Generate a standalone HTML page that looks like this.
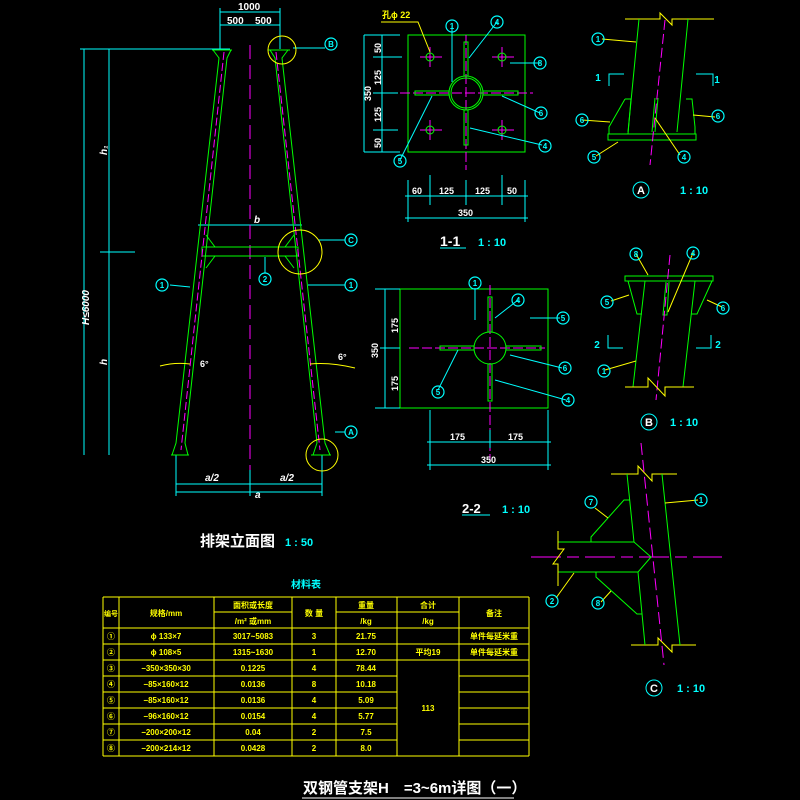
<!DOCTYPE html>
<html><head><meta charset="utf-8"><style>
html,body{margin:0;padding:0;background:#000;width:800px;height:800px;overflow:hidden}
svg text{font-family:"Liberation Sans","Noto Sans CJK SC",sans-serif;font-weight:bold}
</style></head><body>
<svg width="800" height="800" viewBox="0 0 800 800" xmlns="http://www.w3.org/2000/svg">
<rect width="800" height="800" fill="#000"/>
<defs>
<g id="cn"><circle r="6" fill="none" stroke="#0ff" stroke-width="1.2"/></g>
</defs>
<g fill="none" stroke-width="1">
<!-- ELEVATION -->
<g stroke="#0ff">
<line x1="80" y1="49" x2="230" y2="49"/>
<line x1="84" y1="49" x2="84" y2="455"/>
<line x1="109" y1="49" x2="109" y2="455"/>
<line x1="100" y1="252" x2="135" y2="252"/>
<line x1="220" y1="12" x2="280" y2="12"/>
<line x1="220" y1="25" x2="280" y2="25"/>
<line x1="220" y1="8" x2="220" y2="49"/>
<line x1="280" y1="8" x2="280" y2="49"/>
<line x1="198" y1="225" x2="302" y2="225"/>
<line x1="176" y1="484" x2="322" y2="484"/>
<line x1="176" y1="492" x2="322" y2="492"/>
<line x1="176" y1="455" x2="176" y2="496"/>
<line x1="322" y1="455" x2="322" y2="496"/>
<line x1="250" y1="470" x2="250" y2="496"/>
<line x1="293" y1="48" x2="325" y2="48"/>
<line x1="318" y1="240" x2="345" y2="240"/>
<line x1="308" y1="285" x2="345" y2="285"/>
<line x1="170" y1="285" x2="190" y2="287"/>
<line x1="265" y1="257" x2="265" y2="273"/>
<line x1="335" y1="432" x2="345" y2="432"/>
</g>
<line x1="250" y1="45" x2="250" y2="470" stroke="#f0f" stroke-dasharray="14,6"/>
<g stroke="#0f0">
<polyline points="213,50 219,58 176,443 172,455"/>
<polyline points="231,50 227,58 185,443 188,455"/>
<polyline points="270,50 275,58 317,443 313,455"/>
<polyline points="288,50 282,58 325,443 330,455"/>
<line x1="171" y1="455" x2="189" y2="455"/>
<line x1="311" y1="455" x2="331" y2="455"/>
<line x1="212" y1="50" x2="232" y2="50"/>
<line x1="268" y1="50" x2="290" y2="50"/>
<rect x="202" y="247" width="96" height="9"/>
<line x1="206" y1="235" x2="215" y2="247"/>
<line x1="206" y1="268" x2="215" y2="256"/>
<line x1="294" y1="235" x2="285" y2="247"/>
<line x1="294" y1="268" x2="285" y2="256"/>
</g>
<g stroke="#f0f" stroke-dasharray="8,3">
<line x1="224" y1="52" x2="181" y2="450"/>
<line x1="276" y1="52" x2="320" y2="450"/>
</g>
<g stroke="#ff0">
<circle cx="282" cy="50" r="14"/>
<circle cx="300" cy="252" r="22"/>
<circle cx="322" cy="455" r="16"/>
<path d="M160 366 Q175 362 190 364"/><path d="M310 364 Q330 362 355 368"/>
</g>
</g>
<g fill="#fff" font-size="10">
<text x="238" y="10" font-size="10">1000</text>
<text x="227" y="24">500</text><text x="255" y="24">500</text>
<text x="254" y="223" font-style="italic">b</text>
<text x="205" y="481" font-style="italic">a/2</text>
<text x="280" y="481" font-style="italic">a/2</text>
<text x="255" y="498" font-style="italic">a</text>
<text x="200" y="367" font-size="9">6°</text><text x="338" y="360" font-size="9">6°</text>
<text transform="translate(107,155) rotate(-90)" font-style="italic">h₁</text>
<text transform="translate(89,325) rotate(-90)" font-style="italic">H≤6000</text>
<text transform="translate(107,365) rotate(-90)" font-style="italic">h</text>
<text x="200" y="546" font-size="15">排架立面图</text>
</g>
<text x="285" y="546" fill="#0ff" font-size="11">1 : 50</text>
<g fill="#0ff" font-size="8" text-anchor="middle">
<use href="#cn" x="331" y="44"/><text x="331" y="47">B</text>
<use href="#cn" x="351" y="240"/><text x="351" y="243">C</text>
<use href="#cn" x="351" y="432"/><text x="351" y="435">A</text>
<use href="#cn" x="162" y="285"/><text x="162" y="288">1</text>
<use href="#cn" x="351" y="285"/><text x="351" y="288">1</text>
<use href="#cn" x="265" y="279"/><text x="265" y="282">2</text>
</g>

<!-- 1-1 PLAN -->
<g fill="none">
<rect x="408" y="35" width="117" height="117" stroke="#0f0"/>
<g stroke="#f0f" stroke-dasharray="10,3"><line x1="400" y1="93" x2="533" y2="93"/><line x1="466" y1="35" x2="466" y2="170"/></g>
<g stroke="#f0f"><line x1="420" y1="57" x2="442" y2="57"/><line x1="430" y1="47" x2="430" y2="67"/><line x1="492" y1="57" x2="514" y2="57"/><line x1="502" y1="47" x2="502" y2="67"/><line x1="420" y1="130" x2="442" y2="130"/><line x1="430" y1="120" x2="430" y2="140"/><line x1="492" y1="130" x2="514" y2="130"/><line x1="502" y1="120" x2="502" y2="140"/></g>
<g stroke="#0f0"><circle cx="430" cy="57" r="4"/><circle cx="502" cy="57" r="4"/><circle cx="430" cy="130" r="4"/><circle cx="502" cy="130" r="4"/>
<circle cx="466" cy="93" r="17"/><circle cx="466" cy="93" r="15"/>
<rect x="464" y="42" width="4" height="34"/><rect x="464" y="110" width="4" height="35"/>
<rect x="415" y="91" width="34" height="4"/><rect x="483" y="91" width="35" height="4"/></g>
<g stroke="#0ff"><line x1="364" y1="35" x2="400" y2="35"/><line x1="364" y1="152" x2="400" y2="152"/><line x1="364" y1="35" x2="364" y2="152"/><line x1="382" y1="35" x2="382" y2="152"/><line x1="373" y1="57" x2="402" y2="57"/><line x1="373" y1="130" x2="398" y2="130"/><line x1="373" y1="93" x2="398" y2="93"/>
<line x1="408" y1="180" x2="408" y2="222"/><line x1="525" y1="180" x2="525" y2="222"/><line x1="430" y1="175" x2="430" y2="205"/><line x1="502" y1="175" x2="502" y2="205"/><line x1="466" y1="180" x2="466" y2="205"/>
<line x1="405" y1="196" x2="528" y2="196"/><line x1="405" y1="218" x2="528" y2="218"/>
<line x1="452" y1="26" x2="452" y2="82"/><line x1="497" y1="22" x2="469" y2="58"/><line x1="510" y1="63" x2="540" y2="63"/><line x1="502" y1="96" x2="540" y2="113"/><line x1="470" y1="128" x2="542" y2="145"/><line x1="432" y1="96" x2="400" y2="160"/>
<line x1="440" y1="248" x2="466" y2="248"/></g>
<polyline points="381,22 418,22 430,52" stroke="#ff0"/>
</g>
<g fill="#fff" font-size="9">
<text transform="translate(381,53) rotate(-90)">50</text><text transform="translate(381,85) rotate(-90)">125</text><text transform="translate(381,122) rotate(-90)">125</text><text transform="translate(381,148) rotate(-90)">50</text>
<text transform="translate(371,101) rotate(-90)">350</text>
<text x="412" y="194">60</text><text x="439" y="194">125</text><text x="475" y="194">125</text><text x="507" y="194">50</text>
<text x="458" y="216">350</text>
<text x="440" y="246" font-size="14" font-weight="normal">1-1</text>
</g>
<text x="382" y="18" fill="#ff0" font-size="9">孔ϕ 22</text>
<text x="478" y="246" fill="#0ff" font-size="11">1 : 10</text>
<g fill="#0ff" font-size="8" text-anchor="middle">
<use href="#cn" x="452" y="26"/><text x="452" y="29">1</text>
<use href="#cn" x="497" y="22"/><text x="497" y="25">4</text>
<use href="#cn" x="540" y="63"/><text x="540" y="66">8</text>
<use href="#cn" x="541" y="113"/><text x="541" y="116">6</text>
<use href="#cn" x="545" y="146"/><text x="545" y="149">4</text>
<use href="#cn" x="400" y="161"/><text x="400" y="164">5</text>
</g>

<!-- 2-2 PLAN -->
<g fill="none">
<rect x="400" y="289" width="148" height="119" stroke="#0f0"/>
<line x1="409" y1="348" x2="545" y2="348" stroke="#f0f" stroke-dasharray="10,3"/>
<line x1="490" y1="285" x2="490" y2="460" stroke="#f0f" stroke-dasharray="10,3"/>
<g stroke="#0f0"><circle cx="490" cy="348" r="16"/><rect x="488" y="297" width="4" height="35"/><rect x="488" y="364" width="4" height="37"/><rect x="440" y="346" width="34" height="4"/><rect x="506" y="346" width="35" height="4"/></g>
<g stroke="#0ff"><line x1="375" y1="289" x2="400" y2="289"/><line x1="375" y1="408" x2="400" y2="408"/><line x1="385" y1="289" x2="385" y2="408"/><line x1="380" y1="348" x2="400" y2="348"/>
<line x1="430" y1="410" x2="430" y2="470"/><line x1="548" y1="410" x2="548" y2="470"/><line x1="490" y1="430" x2="490" y2="448"/>
<line x1="427" y1="442" x2="551" y2="442"/><line x1="427" y1="465" x2="551" y2="465"/>
<line x1="475" y1="288" x2="475" y2="320"/><line x1="518" y1="300" x2="495" y2="318"/><line x1="530" y1="318" x2="560" y2="318"/><line x1="510" y1="355" x2="562" y2="368"/><line x1="495" y1="380" x2="566" y2="400"/><line x1="458" y1="350" x2="438" y2="390"/>
<line x1="462" y1="515" x2="490" y2="515"/></g>
</g>
<g fill="#fff" font-size="9">
<text transform="translate(398,333) rotate(-90)">175</text><text transform="translate(398,391) rotate(-90)">175</text>
<text transform="translate(378,358) rotate(-90)">350</text>
<text x="450" y="440">175</text><text x="508" y="440">175</text><text x="481" y="463">350</text>
<text x="462" y="513" font-size="13">2-2</text>
</g>
<text x="502" y="513" fill="#0ff" font-size="11">1 : 10</text>
<g fill="#0ff" font-size="8" text-anchor="middle">
<use href="#cn" x="475" y="283"/><text x="475" y="286">1</text>
<use href="#cn" x="518" y="300"/><text x="518" y="303">4</text>
<use href="#cn" x="563" y="318"/><text x="563" y="321">5</text>
<use href="#cn" x="565" y="368"/><text x="565" y="371">6</text>
<use href="#cn" x="568" y="400"/><text x="568" y="403">4</text>
<use href="#cn" x="438" y="392"/><text x="438" y="395">5</text>
</g>

<!-- DETAIL A -->
<g fill="none">
<polyline points="625,19 660,19 660,13 672,25 672,19 714,19" stroke="#ff0"/>
<g stroke="#0f0"><line x1="639" y1="19" x2="628" y2="132"/><line x1="688" y1="19" x2="677" y2="132"/>
<rect x="608" y="134" width="88" height="6"/>
<polyline points="625,99 631,99 628,134"/><polyline points="625,99 609,127 609,134"/>
<polyline points="686,99 692,99 695,127 695,134"/>
<line x1="655" y1="98" x2="652" y2="132"/><line x1="658" y1="98" x2="655" y2="132"/></g>
<line x1="665" y1="20" x2="650" y2="165" stroke="#f0f" stroke-dasharray="10,4"/>
<g stroke="#0ff"><polyline points="609,86 609,74 624,74"/><polyline points="713,86 713,74 696,74"/></g>
<g stroke="#ff0"><line x1="602" y1="39" x2="636" y2="42"/><line x1="582" y1="120" x2="610" y2="122"/><line x1="693" y1="115" x2="715" y2="117"/><line x1="596" y1="156" x2="618" y2="142"/><line x1="655" y1="118" x2="680" y2="155"/></g>
</g>
<g fill="#0ff" font-size="8" text-anchor="middle">
<use href="#cn" x="598" y="39"/><text x="598" y="42">1</text>
<use href="#cn" x="582" y="120"/><text x="582" y="123">6</text>
<use href="#cn" x="718" y="116"/><text x="718" y="119">6</text>
<use href="#cn" x="594" y="157"/><text x="594" y="160">5</text>
<use href="#cn" x="684" y="157"/><text x="684" y="160">4</text>
<text x="598" y="81" font-size="10">1</text><text x="717" y="83" font-size="10">1</text>
<circle cx="641" cy="190" r="8" fill="none" stroke="#0ff"/><text x="641" y="194" fill="#fff" font-size="11">A</text>
<text x="680" y="194" font-size="11" text-anchor="start">1 : 10</text>
</g>

<!-- DETAIL B -->
<g fill="none">
<g stroke="#0f0"><rect x="625" y="276" width="88" height="5"/>
<polyline points="628,281 637,314 642,314"/><polyline points="712,281 697,314 691,314"/>
<line x1="645" y1="281" x2="633" y2="387"/><line x1="695" y1="281" x2="683" y2="387"/>
<polyline points="666,282 663,315 667,315 669,282"/></g>
<line x1="670" y1="255" x2="656" y2="400" stroke="#f0f" stroke-dasharray="10,4"/>
<polyline points="625,387 648,387 648,378 665,396 665,387 694,387" stroke="#ff0"/>
<g stroke="#0ff"><polyline points="608,335 608,348 623,348"/><polyline points="711,335 711,348 696,348"/></g>
<g stroke="#ff0"><line x1="636" y1="254" x2="648" y2="275"/><line x1="693" y1="253" x2="668" y2="312"/><line x1="611" y1="301" x2="629" y2="295"/><line x1="707" y1="300" x2="722" y2="307"/><line x1="605" y1="370" x2="636" y2="361"/></g>
</g>
<g fill="#0ff" font-size="8" text-anchor="middle">
<use href="#cn" x="636" y="254"/><text x="636" y="257">8</text>
<use href="#cn" x="693" y="253"/><text x="693" y="256">4</text>
<use href="#cn" x="607" y="302"/><text x="607" y="305">5</text>
<use href="#cn" x="723" y="308"/><text x="723" y="311">6</text>
<use href="#cn" x="604" y="371"/><text x="604" y="374">1</text>
<text x="597" y="348" font-size="10">2</text><text x="718" y="348" font-size="10">2</text>
<circle cx="649" cy="422" r="8" fill="none" stroke="#0ff"/><text x="649" y="426" fill="#fff" font-size="11">B</text>
<text x="670" y="426" font-size="11" text-anchor="start">1 : 10</text>
</g>

<!-- DETAIL C -->
<g fill="none">
<polyline points="611,474 638,474 638,466 652,481 652,474 677,474" stroke="#ff0"/>
<polyline points="631,645 658,645 658,638 672,652 672,645 696,645" stroke="#ff0"/>
<line x1="641" y1="443" x2="664" y2="665" stroke="#f0f" stroke-dasharray="12,5"/>
<line x1="531" y1="557" x2="722" y2="557" stroke="#f0f" stroke-dasharray="30,6,12,6"/>
<g stroke="#0f0"><polyline points="627,474 634,542 651,557 638,572 645,645"/><line x1="662" y1="474" x2="680" y2="645"/>
<line x1="558" y1="542" x2="634" y2="542"/><line x1="558" y1="572" x2="638" y2="572"/>
<polyline points="591,542 591,537 624,500 630,500"/><polyline points="596,572 596,577 637,614 642,614"/></g>
<polyline points="558,531 558,549 564,549 553,564 558,564 558,586" stroke="#ff0"/>
<g stroke="#ff0"><line x1="665" y1="503" x2="698" y2="500"/><line x1="595" y1="508" x2="608" y2="518"/><line x1="556" y1="598" x2="574" y2="573"/><line x1="601" y1="602" x2="611" y2="591"/></g>
</g>
<g fill="#0ff" font-size="8" text-anchor="middle">
<use href="#cn" x="701" y="500"/><text x="701" y="503">1</text>
<use href="#cn" x="591" y="502"/><text x="591" y="505">7</text>
<use href="#cn" x="552" y="601"/><text x="552" y="604">2</text>
<use href="#cn" x="598" y="603"/><text x="598" y="606">8</text>
<circle cx="654" cy="688" r="8" fill="none" stroke="#0ff"/><text x="654" y="692" fill="#fff" font-size="11">C</text>
<text x="677" y="692" font-size="11" text-anchor="start">1 : 10</text>
</g>

<!-- TABLE -->
<text x="306" y="588" fill="#0ff" font-size="10" text-anchor="middle">材料表</text>
<g stroke="#ff0" fill="none">
<line x1="103" y1="597" x2="529" y2="597"/>
<line x1="214" y1="612" x2="292" y2="612"/><line x1="336" y1="612" x2="459" y2="612"/>
<line x1="103" y1="628" x2="529" y2="628"/><line x1="103" y1="644" x2="529" y2="644"/><line x1="103" y1="660" x2="529" y2="660"/>
<line x1="103" y1="676" x2="397" y2="676"/><line x1="459" y1="676" x2="529" y2="676"/>
<line x1="103" y1="692" x2="397" y2="692"/><line x1="459" y1="692" x2="529" y2="692"/>
<line x1="103" y1="708" x2="397" y2="708"/><line x1="459" y1="708" x2="529" y2="708"/>
<line x1="103" y1="724" x2="397" y2="724"/><line x1="459" y1="724" x2="529" y2="724"/>
<line x1="103" y1="740" x2="397" y2="740"/><line x1="459" y1="740" x2="529" y2="740"/>
<line x1="103" y1="756" x2="529" y2="756"/>
<line x1="103" y1="597" x2="103" y2="756"/><line x1="119" y1="597" x2="119" y2="756"/><line x1="214" y1="597" x2="214" y2="756"/><line x1="292" y1="597" x2="292" y2="756"/><line x1="336" y1="597" x2="336" y2="756"/><line x1="397" y1="597" x2="397" y2="756"/><line x1="459" y1="597" x2="459" y2="756"/><line x1="529" y1="597" x2="529" y2="756"/>
</g>
<g fill="#ff0" font-size="8" text-anchor="middle">
<text x="111" y="616" font-size="7">编号</text><text x="166" y="616">规格/mm</text>
<text x="253" y="608">面积或长度</text><text x="253" y="624">/m² 或mm</text>
<text x="314" y="616">数 量</text><text x="366" y="608">重量</text><text x="366" y="624">/kg</text>
<text x="428" y="608">合计</text><text x="428" y="624">/kg</text><text x="494" y="616">备注</text>
<text x="111" y="639">①</text><text x="166" y="639">ϕ 133×7</text><text x="253" y="639">3017~5083</text><text x="314" y="639">3</text><text x="366" y="639">21.75</text><text x="494" y="639">单件每延米重</text>
<text x="111" y="655">②</text><text x="166" y="655">ϕ 108×5</text><text x="253" y="655">1315~1630</text><text x="314" y="655">1</text><text x="366" y="655">12.70</text><text x="428" y="655">平均19</text><text x="494" y="655">单件每延米重</text>
<text x="111" y="671">③</text><text x="166" y="671">−350×350×30</text><text x="253" y="671">0.1225</text><text x="314" y="671">4</text><text x="366" y="671">78.44</text>
<text x="111" y="687">④</text><text x="166" y="687">−85×160×12</text><text x="253" y="687">0.0136</text><text x="314" y="687">8</text><text x="366" y="687">10.18</text>
<text x="111" y="703">⑤</text><text x="166" y="703">−85×160×12</text><text x="253" y="703">0.0136</text><text x="314" y="703">4</text><text x="366" y="703">5.09</text>
<text x="111" y="719">⑥</text><text x="166" y="719">−96×160×12</text><text x="253" y="719">0.0154</text><text x="314" y="719">4</text><text x="366" y="719">5.77</text>
<text x="428" y="711">113</text>
<text x="111" y="735">⑦</text><text x="166" y="735">−200×200×12</text><text x="253" y="735">0.04</text><text x="314" y="735">2</text><text x="366" y="735">7.5</text>
<text x="111" y="751">⑧</text><text x="166" y="751">−200×214×12</text><text x="253" y="751">0.0428</text><text x="314" y="751">2</text><text x="366" y="751">8.0</text>
</g>
<text x="303" y="793" fill="#fff" font-size="15">双钢管支架H　=3~6m详图（一）</text>
<line x1="302" y1="798" x2="514" y2="798" stroke="#fff"/>
</svg>
</body></html>
